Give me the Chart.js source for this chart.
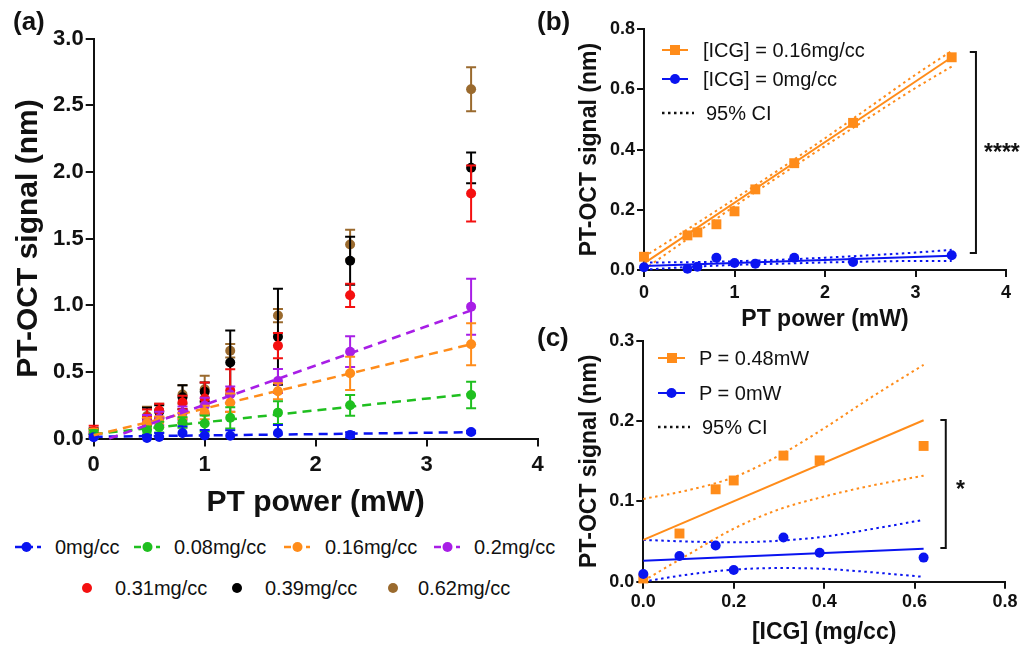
<!DOCTYPE html>
<html><head><meta charset="utf-8">
<script src="https://cdn.jsdelivr.net/npm/chart.js@4.4.0/dist/chart.umd.min.js"></script>
<style>
html,body{margin:0;padding:0;background:#fff;}
body{width:1030px;height:648px;position:relative;overflow:hidden;font-family:"Liberation Sans",Arial,Helvetica,sans-serif;color:#111;}
canvas{position:absolute;}
.t{position:absolute;white-space:nowrap;font-size:20px;line-height:24px;color:#111;}
.pl{position:absolute;white-space:nowrap;font-weight:bold;font-size:26px;line-height:26px;color:#111;}
.st{position:absolute;white-space:nowrap;font-weight:bold;font-size:23px;line-height:23px;color:#111;}
#ov{position:absolute;left:0;top:0;}
</style></head><body>
<canvas id="ca" width="580" height="530" style="left:0;top:0"></canvas>
<canvas id="cb" width="460" height="340" style="left:570px;top:0"></canvas>
<canvas id="cc" width="460" height="328" style="left:570px;top:320px"></canvas>

<div class="pl" style="left:13px;top:8px">(a)</div>
<div class="pl" style="left:537px;top:8px">(b)</div>
<div class="pl" style="left:537px;top:324px">(c)</div>

<div class="st" style="left:984px;top:141px">****</div>
<div class="st" style="left:956px;top:478px">*</div>

<!-- legend (a) -->
<div class="t" style="left:55px;top:535px">0mg/cc</div>
<div class="t" style="left:174px;top:535px">0.08mg/cc</div>
<div class="t" style="left:325px;top:535px">0.16mg/cc</div>
<div class="t" style="left:474px;top:535px">0.2mg/cc</div>
<div class="t" style="left:115px;top:576px">0.31mg/cc</div>
<div class="t" style="left:265px;top:576px">0.39mg/cc</div>
<div class="t" style="left:418px;top:576px">0.62mg/cc</div>
<!-- legend (b) -->
<div class="t" style="left:703px;top:38px">[ICG] = 0.16mg/cc</div>
<div class="t" style="left:703px;top:67px">[ICG] = 0mg/cc</div>
<div class="t" style="left:706px;top:101px">95% CI</div>
<!-- legend (c) -->
<div class="t" style="left:699px;top:346px">P = 0.48mW</div>
<div class="t" style="left:699px;top:381px">P = 0mW</div>
<div class="t" style="left:702px;top:415px">95% CI</div>

<svg id="ov" width="1030" height="648">
  <g stroke-width="2.5" fill="none">
    <line x1="15" y1="547" x2="41" y2="547" stroke="#0a14f0" stroke-dasharray="7,4"/>
    <line x1="134" y1="547" x2="160" y2="547" stroke="#1fbf1f" stroke-dasharray="7,4"/>
    <line x1="284" y1="547" x2="310" y2="547" stroke="#ff8c1a" stroke-dasharray="7,4"/>
    <line x1="434" y1="547" x2="460" y2="547" stroke="#a81ee6" stroke-dasharray="7,4"/>
  </g>
  <circle cx="26.5" cy="547" r="5" fill="#0a14f0"/>
  <circle cx="147.5" cy="547" r="5" fill="#1fbf1f"/>
  <circle cx="297.5" cy="547" r="5" fill="#ff8c1a"/>
  <circle cx="447.5" cy="547" r="5" fill="#a81ee6"/>
  <circle cx="87" cy="588" r="5" fill="#f41010"/>
  <circle cx="237" cy="588" r="5" fill="#000"/>
  <circle cx="393" cy="588" r="5" fill="#9a6a2e"/>

  <line x1="662" y1="50" x2="688" y2="50" stroke="#ff8c1a" stroke-width="2"/>
  <rect x="670" y="45" width="10" height="10" fill="#ff8c1a"/>
  <line x1="662" y1="79" x2="688" y2="79" stroke="#0a14f0" stroke-width="2"/>
  <circle cx="675" cy="79" r="5" fill="#0a14f0"/>
  <line x1="662" y1="113" x2="694" y2="113" stroke="#111" stroke-width="2.5" stroke-dasharray="2.5,3.5"/>

  <line x1="658" y1="358" x2="685" y2="358" stroke="#ff8c1a" stroke-width="2"/>
  <rect x="667" y="353" width="10" height="10" fill="#ff8c1a"/>
  <line x1="658" y1="393" x2="685" y2="393" stroke="#0a14f0" stroke-width="2"/>
  <circle cx="671.5" cy="393" r="5" fill="#0a14f0"/>
  <line x1="658" y1="427" x2="690" y2="427" stroke="#111" stroke-width="2.5" stroke-dasharray="2.5,3.5"/>
</svg>

<script>
// ---------------- DATA ----------------
// Panel (a): PT power (mW) and mean PT-OCT signal (nm) per ICG concentration
const powerMW = [0, 0.48, 0.59, 0.8, 1.0, 1.23, 1.66, 2.31, 3.4];
const sig0   = [0.009, 0.004, 0.011, 0.041, 0.023, 0.021, 0.041, 0.027, 0.049];
const err0   = [0.02, 0.02, 0.03, 0.05, 0.04, 0.04, 0.06, 0.02, 0.01];
const sig008 = [0.032, 0.060, 0.085, 0.12, 0.113, 0.155, 0.194, 0.249, 0.326];
const err008 = [0.03, 0.03, 0.04, 0.04, 0.06, 0.08, 0.085, 0.078, 0.10];
const sig016 = [0.044, 0.115, 0.125, 0.152, 0.195, 0.268, 0.355, 0.489, 0.707];
const err016 = [0.03, 0.04, 0.04, 0.04, 0.05, 0.07, 0.06, 0.125, 0.157];
const sig02  = [0.015, 0.126, 0.15, 0.19, 0.245, 0.33, 0.431, 0.651, 0.989];
const err02  = [0.03, 0.05, 0.05, 0.05, 0.06, 0.06, 0.09, 0.115, 0.21];
const sig031 = [0.055, 0.157, 0.21, 0.27, 0.30, 0.36, 0.696, 1.074, 1.838];
const err031 = [0.04, 0.06, 0.05, 0.05, 0.12, 0.16, 0.095, 0.087, 0.21];
const sig039 = [0.036, 0.151, 0.20, 0.31, 0.35, 0.57, 0.764, 1.333, 2.03];
const err039 = [0.04, 0.08, 0.05, 0.09, 0.07, 0.24, 0.36, 0.18, 0.115];
const sig062 = [0.030, 0.169, 0.21, 0.33, 0.37, 0.658, 0.922, 1.455, 2.62];
const err062 = [0.04, 0.07, 0.05, 0.07, 0.10, 0.05, 0.05, 0.11, 0.165];
// Panel (a) linear fits (dashed), endpoints
const fitX0 = [0, 3.4],    fitY0 = [0.013, 0.047];
const fitX008 = [0, 3.4],  fitY008 = [0.033, 0.335];
const fitX016 = [0, 3.4],  fitY016 = [0.024, 0.707];
const fitX02 = [0.14, 3.4], fitY02 = [0, 0.96];

// Panel (b): fits and 95% CI
const fitXB = [0, 3.4];
const fitB016 = [0.022, 0.707];
const fitB0 = [0.013, 0.047];
const ciXB = [0, 0.5, 1, 1.5, 2, 2.5, 3, 3.4];
const ciUpB016 = [0.044, 0.139, 0.236, 0.335, 0.438, 0.543, 0.649, 0.728];
const ciLoB016 = [0.002, 0.107, 0.212, 0.313, 0.412, 0.509, 0.605, 0.676];
const ciUpB0 = [0.025, 0.026, 0.029, 0.034, 0.041, 0.049, 0.058, 0.067];
const ciLoB0 = [0.001, 0.010, 0.017, 0.021, 0.025, 0.028, 0.030, 0.030];
const bracketBX = [3.60, 3.668], bracketBY = [0.0565, 0.7245];

// Panel (c): ICG concentration (mg/cc)
const icg = [0, 0.08, 0.16, 0.2, 0.31, 0.39, 0.62];
const sigP048 = [0.004, 0.060, 0.115, 0.126, 0.157, 0.151, 0.169];
const sigP0   = [0.0095, 0.032, 0.045, 0.0145, 0.055, 0.036, 0.030];
const fitXC = [0, 0.62];
const fitC048 = [0.052, 0.201];
const fitC0 = [0.026, 0.041];
const ciXC = [0, 0.1, 0.2, 0.3, 0.4, 0.5, 0.62];
const ciUpC048 = [0.103, 0.114, 0.130, 0.157, 0.191, 0.228, 0.270];
const ciLoC048 = [0.001, 0.034, 0.066, 0.090, 0.106, 0.119, 0.132];
const ciUpC0 = [0.052, 0.050, 0.049, 0.051, 0.056, 0.065, 0.077];
const ciLoC0 = [0.000, 0.009, 0.015, 0.017, 0.016, 0.012, 0.006];
const bracketCX = [0.657, 0.669], bracketCY = [0.042, 0.2013];

// ---------------- STYLE ----------------
const FONT = '"Liberation Sans", Arial, Helvetica, sans-serif';
Chart.defaults.font.family = FONT;
Chart.defaults.color = '#111';
const C = {blue:'#0a14f0', green:'#1fbf1f', orange:'#ff8c1a', purple:'#a81ee6', red:'#f41010', black:'#000000', brown:'#9a6a2e'};

const pts = (xs, ys) => xs.map((x, i) => ({x, y: ys[i]}));

const errorBarPlugin = {
  id: 'errorBars',
  beforeDatasetDraw(chart, args) {
    const ds = chart.data.datasets[args.index];
    if (!ds.errors) return;
    const xs = chart.scales.x, ys = chart.scales.y, ctx = chart.ctx;
    ctx.save();
    ctx.strokeStyle = ds.backgroundColor; ctx.lineWidth = 2;
    ds.data.forEach((p, i) => {
      const e = ds.errors[i];
      const px = xs.getPixelForValue(p.x);
      const top = ys.getPixelForValue(p.y + e);
      const lowClamped = p.y - e <= ys.min;
      const bot = ys.getPixelForValue(lowClamped ? ys.min : p.y - e);
      ctx.beginPath();
      ctx.moveTo(px, top); ctx.lineTo(px, bot);
      ctx.moveTo(px - 5, top); ctx.lineTo(px + 5, top);
      if (!lowClamped) { ctx.moveTo(px - 5, bot); ctx.lineTo(px + 5, bot); }
      ctx.stroke();
    });
    ctx.restore();
  }
};

const bracketPlugin = {
  id: 'bracket',
  afterDatasetsDraw(chart, args, opts) {
    if (!opts || !opts.x) return;
    const xs = chart.scales.x, ys = chart.scales.y, ctx = chart.ctx;
    const x0 = xs.getPixelForValue(opts.x[0]), x1 = xs.getPixelForValue(opts.x[1]);
    const y0 = ys.getPixelForValue(opts.y[0]), y1 = ys.getPixelForValue(opts.y[1]);
    ctx.save();
    ctx.strokeStyle = '#111'; ctx.lineWidth = 2;
    ctx.beginPath();
    ctx.moveTo(x0, y1); ctx.lineTo(x1, y1); ctx.lineTo(x1, y0); ctx.lineTo(x0, y0);
    ctx.stroke();
    ctx.restore();
  }
};

function axis(o) {
  return {
    type: 'linear', min: o.min, max: o.max,
    ticks: {stepSize: o.step, font: {size: o.tickSize, weight: 'bold'}, color: '#111', padding: o.tickPad,
            callback: o.cb, autoSkip: false, maxRotation: 0},
    grid: {display: true, drawOnChartArea: false, drawTicks: true, tickLength: o.tickLen, color: '#111', lineWidth: 2},
    border: {display: true, color: '#111', width: 2},
    title: {display: true, text: o.title, font: {size: o.titleSize, weight: 'bold'}, color: '#111', padding: o.titlePad},
    afterFit(s) { if (o.w != null) s.width = o.w; if (o.h != null) s.height = o.h; }
  };
}
const dec1 = v => Number(v).toFixed(1);
const int0 = v => String(Math.round(v));

function pointSet(label, color, xs, ys, errs, style, radius) {
  return {label, data: pts(xs, ys), errors: errs, backgroundColor: color, borderColor: color,
          pointStyle: style || 'circle', pointRadius: radius || 5, pointHoverRadius: radius || 5,
          pointBorderWidth: 0, showLine: false, clip: false};
}
function lineSet(label, color, xs, ys, dash, width, smooth) {
  const d = {label, data: pts(xs, ys), borderColor: color, backgroundColor: color, borderWidth: width || 2,
          borderDash: dash || [], pointRadius: 0, pointHoverRadius: 0, showLine: true, fill: false,
          tension: 0, clip: false};
  if (smooth) d.cubicInterpolationMode = 'monotone';
  return d;
}
const common = {responsive: false, animation: false, events: [],
  plugins: {legend: {display: false}, tooltip: {enabled: false}}};

// ---------------- PANEL (a) ----------------
new Chart(document.getElementById('ca'), {
  type: 'scatter',
  data: {datasets: [
    lineSet('fit 0.2', C.purple, fitX02, fitY02, [9, 6], 2.5),
    lineSet('fit 0.16', C.orange, fitX016, fitY016, [9, 6], 2.5),
    lineSet('fit 0.08', C.green, fitX008, fitY008, [9, 6], 2.5),
    lineSet('fit 0', C.blue, fitX0, fitY0, [9, 6], 2.5),
    pointSet('0mg/cc', C.blue, powerMW, sig0, err0),
    pointSet('0.08mg/cc', C.green, powerMW, sig008, err008),
    pointSet('0.16mg/cc', C.orange, powerMW, sig016, err016),
    pointSet('0.2mg/cc', C.purple, powerMW, sig02, err02),
    pointSet('0.31mg/cc', C.red, powerMW, sig031, err031),
    pointSet('0.39mg/cc', C.black, powerMW, sig039, err039),
    pointSet('0.62mg/cc', C.brown, powerMW, sig062, err062)
  ]},
  options: Object.assign({}, common, {
    layout: {padding: {left: 0, top: 38.5, right: 42.3, bottom: 0}},
    scales: {
      x: axis({min: 0, max: 4, step: 1, tickSize: 22, tickPad: 5, tickLen: 8, cb: int0,
               title: 'PT power (mW)', titleSize: 30, titlePad: {top: 0, bottom: 9}, h: 91.5}),
      y: axis({min: 0, max: 3, step: 0.5, tickSize: 22, tickPad: 2, tickLen: 8, cb: dec1,
               title: 'PT-OCT signal (nm)', titleSize: 30, titlePad: {top: 11, bottom: 0}, w: 93.7})
    }
  }),
  plugins: [errorBarPlugin]
});

// ---------------- PANEL (b) ----------------
new Chart(document.getElementById('cb'), {
  type: 'scatter',
  data: {datasets: [
    pointSet('[ICG] = 0.16mg/cc', C.orange, powerMW, sig016, null, 'rect', 7),
    pointSet('[ICG] = 0mg/cc', C.blue, powerMW, sig0, null, 'circle', 5),
    lineSet('fit 0.16', C.orange, fitXB, fitB016, [], 2),
    lineSet('fit 0', C.blue, fitXB, fitB0, [], 2),
    lineSet('CI up 0.16', C.orange, ciXB, ciUpB016, [2.5, 3.5], 2, true),
    lineSet('CI lo 0.16', C.orange, ciXB, ciLoB016, [2.5, 3.5], 2, true),
    lineSet('CI up 0', C.blue, ciXB, ciUpB0, [2.5, 3.5], 2, true),
    lineSet('CI lo 0', C.blue, ciXB, ciLoB0, [2.5, 3.5], 2, true)
  ]},
  options: Object.assign({}, common, {
    plugins: {legend: {display: false}, tooltip: {enabled: false}, bracket: {x: bracketBX, y: bracketBY}},
    layout: {padding: {left: 0, top: 29.3, right: 24, bottom: 0}},
    scales: {
      x: axis({min: 0, max: 4, step: 1, tickSize: 18, tickPad: 5, tickLen: 7, cb: int0,
               title: 'PT power (mW)', titleSize: 23, titlePad: {top: 0, bottom: 6.2}, h: 70}),
      y: axis({min: 0, max: 0.8, step: 0.2, tickSize: 18, tickPad: 2, tickLen: 7, cb: dec1,
               title: 'PT-OCT signal (nm)', titleSize: 23, titlePad: {top: 6.2, bottom: 0}, w: 74})
    }
  }),
  plugins: [bracketPlugin]
});

// ---------------- PANEL (c) ----------------
new Chart(document.getElementById('cc'), {
  type: 'scatter',
  data: {datasets: [
    pointSet('P = 0mW', C.blue, icg, sigP0, null, 'circle', 5),
    pointSet('P = 0.48mW', C.orange, icg, sigP048, null, 'rect', 7),
    lineSet('fit 0.48', C.orange, fitXC, fitC048, [], 2),
    lineSet('fit 0', C.blue, fitXC, fitC0, [], 2),
    lineSet('CI up 0.48', C.orange, ciXC, ciUpC048, [2.5, 3.5], 2, true),
    lineSet('CI lo 0.48', C.orange, ciXC, ciLoC048, [2.5, 3.5], 2, true),
    lineSet('CI up 0', C.blue, ciXC, ciUpC0, [2.5, 3.5], 2, true),
    lineSet('CI lo 0', C.blue, ciXC, ciLoC0, [2.5, 3.5], 2, true)
  ]},
  options: Object.assign({}, common, {
    plugins: {legend: {display: false}, tooltip: {enabled: false}, bracket: {x: bracketCX, y: bracketCY}},
    layout: {padding: {left: 0, top: 20.7, right: 25, bottom: 0}},
    scales: {
      x: axis({min: 0, max: 0.8, step: 0.2, tickSize: 18, tickPad: 3, tickLen: 7, cb: dec1,
               title: '[ICG] (mg/cc)', titleSize: 23, titlePad: {top: 0, bottom: 1.2}, h: 66.3}),
      y: axis({min: 0, max: 0.3, step: 0.1, tickSize: 18, tickPad: 2, tickLen: 7, cb: dec1,
               title: 'PT-OCT signal (nm)', titleSize: 23, titlePad: {top: 6.2, bottom: 0}, w: 73.3})
    }
  }),
  plugins: [bracketPlugin]
});
</script>
</body></html>
